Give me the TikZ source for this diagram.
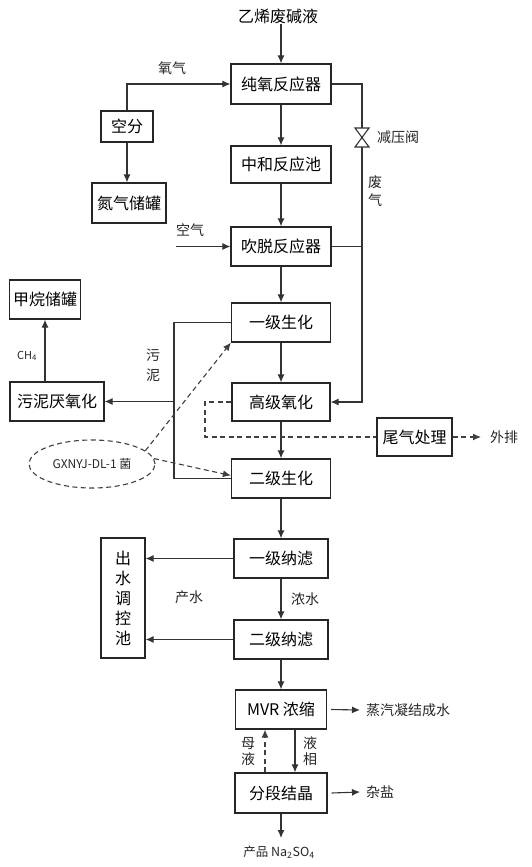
\documentclass[tikz,border=0pt]{standalone}
\usepackage{fontspec}
\setmainfont{Noto Sans CJK SC}
\usetikzlibrary{arrows.meta,shapes.geometric,calc}
\begin{document}
\begin{tikzpicture}[x=1pt,y=-1pt,
 box/.style={draw=black!85,line width=1.2pt,minimum height=39pt,inner sep=0pt,font=\fontsize{16}{19}\selectfont},
 lab/.style={font=\fontsize{14}{17}\selectfont,text=black!85,inner sep=0pt},
 arr/.style={draw=black!80,line width=1.1pt,-{Latex[length=8pt,width=7pt]}},
 ln/.style={draw=black!80,line width=1.1pt},
 dsh/.style={draw=black!75,line width=1.1pt,dash pattern=on 5pt off 3.5pt},
 darr/.style={dsh,-{Latex[length=8pt,width=7pt]}}]
\useasboundingbox (0,0) rectangle (531,867);
% nodes
\node[lab,font=\fontsize{16}{19}\selectfont,text=black] (src) at (278,16) {乙烯废碱液};
\node[box,minimum width=100pt,minimum height=40pt] (pure) at (281,84) {纯氧反应器};
\node[box,minimum width=52pt,minimum height=31pt] (kf) at (127,126.5) {空分};
\node[box,minimum width=74pt,minimum height=40pt] (n2) at (129,203) {氮气储罐};
\node[box,minimum width=100pt,minimum height=37pt] (zh) at (281,164.5) {中和反应池};
\node[box,minimum width=100pt] (ct) at (281,246.5) {吹脱反应器};
\node[box,minimum width=99pt] (y1) at (281,322.5) {一级生化};
\node[box,minimum width=71pt] (ch4t) at (45,299.5) {甲烷储罐};
\node[box,minimum width=94pt] (wn) at (57,401.5) {污泥厌氧化};
\node[box,minimum width=98pt,minimum height=38pt] (gj) at (281,402) {高级氧化};
\node[box,minimum width=75pt,minimum height=38pt] (wq) at (414.5,437) {尾气处理};
\node[box,minimum width=99pt] (e2) at (281,478.5) {二级生化};
\node[box,minimum width=94pt] (nf1) at (281,558.5) {一级纳滤};
\node[box,minimum width=44pt,minimum height=120pt,align=center,font=\fontsize{16}{20}\selectfont] (cs) at (123,598) {出\\水\\调\\控\\池};
\node[box,minimum width=94pt] (nf2) at (281,639.5) {二级纳滤};
\node[box,minimum width=91pt] (mvr) at (281,709.5) {MVR 浓缩};
\node[box,minimum width=92pt,minimum height=40pt] (fd) at (281,793) {分段结晶};
\node[ellipse,draw,dsh,minimum width=126pt,minimum height=48pt,inner sep=0pt,font=\fontsize{12}{14}\selectfont,text=black!85] (bac) at (92,464) {GXNYJ-DL-1 菌};
% labels
\node[lab] (lo2) at (172,68) {氧气};
\node[lab] (lvalve) at (398,137) {减压阀};
\node[lab,align=center,font=\fontsize{14}{18}\selectfont] (lfq) at (375,191) {废\\气};
\node[lab] (lair) at (190,230) {空气};
\node[lab,align=center,font=\fontsize{14}{20}\selectfont] (lwn) at (153,365) {污\\泥};
\node[lab,font=\fontsize{11}{13}\selectfont] (lch4) at (27,356) {CH\textsubscript{4}};
\node[lab] (lout) at (504,437) {外排};
\node[lab] (lcs) at (189,597) {产水};
\node[lab] (lns) at (305,599) {浓水};
\node[lab,anchor=west] (steam) at (366,710) {蒸汽凝结成水};
\node[lab,align=center,font=\fontsize{14}{16}\selectfont] (lyx) at (310,751) {液\\相};
\node[lab,align=center,font=\fontsize{14}{16}\selectfont] (lmy) at (248,752) {母\\液};
\node[lab,anchor=west] (zy) at (366,792) {杂盐};
\node[lab,font=\fontsize{12.5}{15}\selectfont] (prod) at (279,852) {产品 Na\textsubscript{2}SO\textsubscript{4}};
% coordinates
\coordinate (vt) at (362,128);
\coordinate (vb) at (362,147);
\coordinate (air) at (176,246.5);
\coordinate (s1) at (174,322.5);
\coordinate (s2) at (174,478.5);
\coordinate (d1) at (205,437);
\coordinate (out) at (481,437);
\coordinate (pe) at (281,838);
% valve
\draw[ln,fill=white] (355,128) -- (369,128) -- (355,147) -- (369,147) -- cycle;
% connectors
\draw[arr] (src.south -| pure.north) -- (pure.north);
\draw[arr] (kf.north) |- (pure.west);
\draw[arr] (kf.south) -- (kf.south |- n2.north);
\draw[arr] (pure) -- (zh);
\draw[arr] (zh) -- (ct);
\draw[arr] (ct) -- (y1);
\draw[arr] (y1) -- (gj);
\draw[arr] (gj) -- (e2);
\draw[ln] (pure.east) -| (vt);
\draw[arr] (vb) |- (gj.east);
\draw[ln] (ct.east) -- (ct.east -| vb);
\draw[arr] (air) -- (ct.west);
\draw[ln] (y1.west) -- (s1) -- (s2) -- (e2.west);
\draw[arr] (s1 |- wn.east) -- (wn.east);
\draw[arr] (ch4t.south |- wn.north) -- (ch4t.south);
\draw[dsh] (gj.west) -| (d1) -- (wq.west);
\draw[darr] (wq.east) -- (out);
\draw[darr] (bac.14) -- (y1.south west);
\draw[darr] (bac.5) -- ([yshift=3pt]e2.west);
\draw[arr] (e2) -- (nf1);
\draw[arr] (nf1.west) -- (nf1.west -| cs.east);
\draw[arr] (nf1) -- (nf2);
\draw[arr] (nf2.west) -- (nf2.west -| cs.east);
\draw[arr] (nf2) -- (mvr);
\draw[arr] ([xshift=4pt]mvr.east) -- ([xshift=-6pt]steam.west);
\draw[arr] ([xshift=14pt]mvr.south) -- ([xshift=14pt]mvr.south |- fd.north);
\draw[darr] ([xshift=-16pt]fd.north) -- ([xshift=-16pt]fd.north |- mvr.south);
\draw[arr] ([xshift=4pt]fd.east) -- ([xshift=-6pt]zy.west);
\draw[arr] (fd) -- (pe);
\end{tikzpicture}
\end{document}
